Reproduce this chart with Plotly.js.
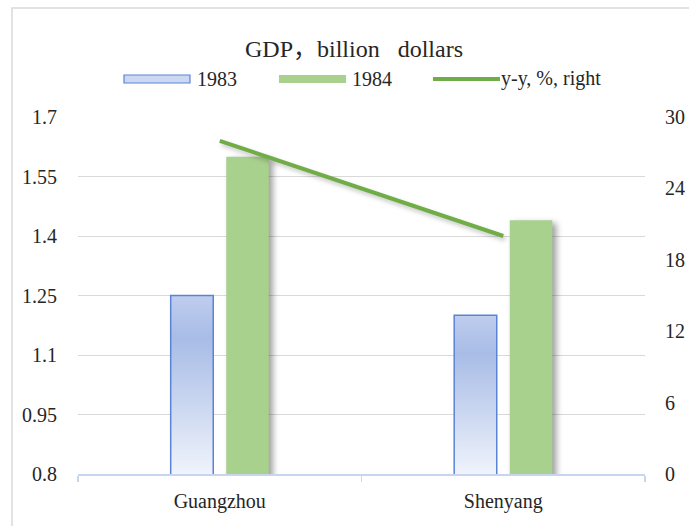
<!DOCTYPE html>
<html><head><meta charset="utf-8">
<script src="https://cdn.plot.ly/plotly-3.0.1.min.js"></script>
<style>
html,body{margin:0;padding:0;background:#fff;overflow:hidden}
#chart{width:689px;height:526px}
</style></head><body><div id="chart"></div>
<script>
const categories = ["Guangzhou", "Shenyang"];
const gdp1983 = [1.25, 1.20];
const gdp1984 = [1.60, 1.44];
const yoyPct = [28, 20];
const leftTicks = [0.8, 0.95, 1.1, 1.25, 1.4, 1.55, 1.7];
const rightTicks = [0, 6, 12, 18, 24, 30];
const seriesNames = ["1983", "1984", "y-y, %, right"];
const chartTitle = "GDP，billion\u00a0\u00a0\u00a0dollars";

const W = 689, H = 526;
const M = {l: 78, r: 44, t: 117, b: 52};
const pw = W - M.l - M.r, ph = H - M.t - M.b;
const px2x = p => (p - M.l) / pw;
const py2y = p => (H - M.b - p) / ph;

const FONT = 'Liberation Serif, Times New Roman, serif';
const TITLE_FONT = 'Liberation Serif, Noto Sans CJK SC, serif';
const TXT = '#262626';
const BLUE_LINE = '#5b83d5';
const GREEN = '#a9d18e';
const LINE_GREEN = '#70ad47';
const AXIS_BLUE = '#c9d5f0';

const data = [
  {type: 'bar', name: seriesNames[0], x: categories, y: gdp1983, yaxis: 'y',
   marker: {color: '#c6d3ef', line: {color: BLUE_LINE, width: 1.5}}, showlegend: false, hoverinfo: 'skip'},
  {type: 'bar', name: seriesNames[1], x: categories, y: gdp1984, yaxis: 'y',
   marker: {color: GREEN, line: {width: 0}}, showlegend: false, hoverinfo: 'skip'},
  {type: 'scatter', mode: 'lines', name: seriesNames[2], x: categories, y: yoyPct, yaxis: 'y2',
   line: {color: LINE_GREEN, width: 4}, showlegend: false, cliponaxis: false, hoverinfo: 'skip'}
];

const legendY = py2y(79);
const shapes = [
  {type: 'rect', xref: 'paper', yref: 'paper', x0: px2x(12), x1: px2x(760), y0: py2y(600), y1: py2y(8),
   line: {color: '#d9d9d9', width: 1.5}, fillcolor: 'rgba(0,0,0,0)', layer: 'below'},
  {type: 'rect', xref: 'paper', yref: 'paper', x0: px2x(124), x1: px2x(190), y0: py2y(83), y1: py2y(75),
   line: {color: BLUE_LINE, width: 1.2}, fillcolor: '#ccd8f1'},
  {type: 'rect', xref: 'paper', yref: 'paper', x0: px2x(279), x1: px2x(346), y0: py2y(83), y1: py2y(75),
   line: {width: 0}, fillcolor: GREEN},
  {type: 'line', xref: 'paper', yref: 'paper', x0: px2x(433), x1: px2x(500), y0: legendY, y1: legendY,
   line: {color: LINE_GREEN, width: 4}}
];
const legFont = {family: FONT, size: 20, color: TXT};
const annotations = [
  {xref: 'paper', yref: 'paper', x: px2x(195), y: legendY, xanchor: 'left', yanchor: 'middle', text: seriesNames[0], showarrow: false, font: legFont},
  {xref: 'paper', yref: 'paper', x: px2x(350), y: legendY, xanchor: 'left', yanchor: 'middle', text: seriesNames[1], showarrow: false, font: legFont},
  {xref: 'paper', yref: 'paper', x: px2x(499), y: legendY, xanchor: 'left', yanchor: 'middle', text: seriesNames[2], showarrow: false, font: legFont}
];

const layout = {
  width: W, height: H,
  margin: M,
  paper_bgcolor: '#ffffff', plot_bgcolor: '#ffffff',
  font: {family: FONT, size: 20, color: TXT},
  title: {text: chartTitle, font: {family: TITLE_FONT, size: 24, color: TXT},
          x: 354 / W, xref: 'container', xanchor: 'center', y: 1 - 49 / H, yref: 'container', yanchor: 'middle'},
  barmode: 'group', bargap: 0.608, bargroupgap: 0.234,
  showlegend: false,
  xaxis: {type: 'category', range: [-0.5, 1.5], showgrid: false, zeroline: false,
          showline: true, linecolor: AXIS_BLUE, linewidth: 1.5,
          ticks: 'outside', tickson: 'boundaries', ticklen: 6, tickcolor: AXIS_BLUE, tickwidth: 1.5,
          ticklabelstandoff: 8,
          tickfont: {family: FONT, size: 20, color: TXT}},
  yaxis: {range: [0.8, 1.7], tickvals: leftTicks, ticktext: leftTicks.map(String),
          showgrid: true, gridcolor: '#d9d9d9', gridwidth: 1, zeroline: false, showline: false,
          ticks: '', ticklabelstandoff: 20, tickfont: {family: FONT, size: 20, color: TXT}},
  yaxis2: {overlaying: 'y', side: 'right', range: [0, 30], tickvals: rightTicks, ticktext: rightTicks.map(String),
           showgrid: false, zeroline: false, showline: false, ticks: '', ticklabelstandoff: 19,
           tickfont: {family: FONT, size: 20, color: TXT}},
  shapes: shapes,
  annotations: annotations
};

Plotly.newPlot('chart', data, layout, {staticPlot: true, displayModeBar: false}).then(gd => {
  const ns = 'http://www.w3.org/2000/svg';
  const svg = gd.querySelector('svg.main-svg');
  let defs = svg.querySelector('defs');
  if (!defs) { defs = document.createElementNS(ns, 'defs'); svg.insertBefore(defs, svg.firstChild); }
  const makeGrad = (id, top, bottom) => {
    const lg = document.createElementNS(ns, 'linearGradient');
    lg.setAttribute('id', id);
    lg.setAttribute('gradientUnits', 'userSpaceOnUse');
    lg.setAttribute('x1', '0'); lg.setAttribute('x2', '0');
    lg.setAttribute('y1', String(top)); lg.setAttribute('y2', String(bottom));
    [['0', '#bfcdee'], ['0.24', '#a8bce6'], ['1', '#eff3fb']].forEach(([o, c]) => {
      const s = document.createElementNS(ns, 'stop');
      s.setAttribute('offset', o); s.setAttribute('stop-color', c);
      lg.appendChild(s);
    });
    defs.appendChild(lg);
  };
  const bars = gd.querySelectorAll('.barlayer .trace');
  if (bars[0]) bars[0].querySelectorAll('path').forEach((p, i) => {
    const bb = p.getBBox();
    const id = 'grad1983_' + i;
    makeGrad(id, bb.y, ph);
    p.style.fill = 'url(#' + id + ')';
  });
  if (bars[1]) bars[1].querySelectorAll('path').forEach(p => { p.style.filter = 'drop-shadow(4px 3px 3px rgba(0,0,0,0.38))'; });
  gd.querySelectorAll('.scatterlayer .trace path.js-line').forEach(p => { p.style.filter = 'drop-shadow(2px 3px 2px rgba(0,0,0,0.22))'; });
});
</script></body></html>
